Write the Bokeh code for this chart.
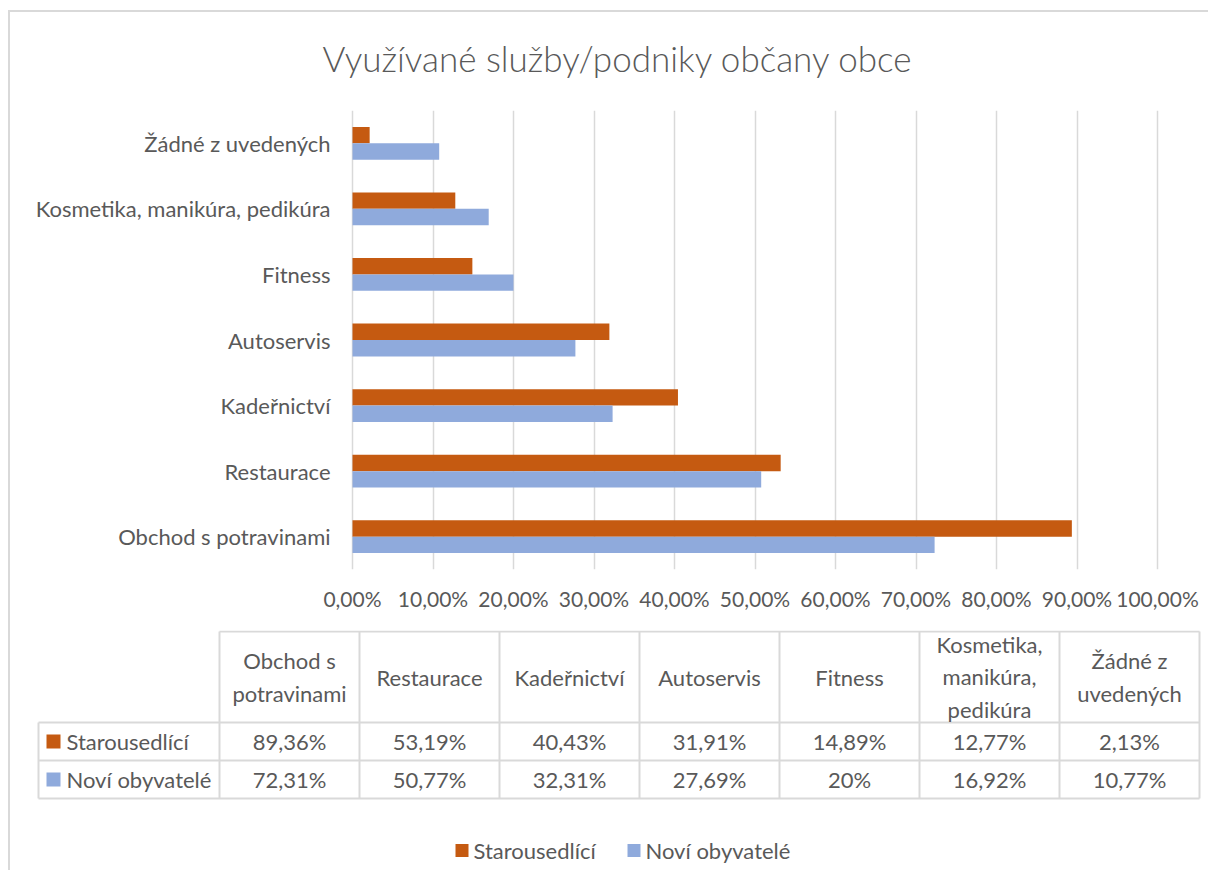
from bokeh.plotting import figure
from bokeh.models import FactorRange, Range1d, FixedTicker, ColumnDataSource
from bokeh.transform import dodge
from bokeh.layouts import column
from bokeh.embed import file_html
from bokeh.resources import INLINE
from bokeh.core.properties import value

# ---------------- data ----------------
categories = ["Obchod s potravinami", "Restaurace", "Kadeřnictví", "Autoservis",
              "Fitness", "Kosmetika, manikúra, pedikúra", "Žádné z uvedených"]
table_headers = ["Obchod s\npotravinami", "Restaurace", "Kadeřnictví", "Autoservis",
                 "Fitness", "Kosmetika,\nmanikúra,\npedikúra", "Žádné z\nuvedených"]
series_names = ["Starousedlící", "Noví obyvatelé"]
starousedlici = [89.36, 53.19, 40.43, 31.91, 14.89, 12.77, 2.13]
novi_obyvatele = [72.31, 50.77, 32.31, 27.69, 20.0, 16.92, 10.77]
x_ticks = [0, 10, 20, 30, 40, 50, 60, 70, 80, 90, 100]
tick_labels = ["0,00%", "10,00%", "20,00%", "30,00%", "40,00%", "50,00%",
               "60,00%", "70,00%", "80,00%", "90,00%", "100,00%"]
title_text = "Využívané služby/podniky občany obce"

# ---------------- style ----------------
FONT = "Lato"
TITLE_FONT = "'Lato Light', Lato"
TXT = "#595959"
GRID = "#d9d9d9"
ORANGE = "#C55A11"
BLUE = "#8FAADC"
FS = "22px"
TICK_FS = "21px"

W = 1198            # figure width (px)
BAR_LEFT = 342      # px where 0 % sits
BAR_W = 805         # px from 0 % to 100 %
PX = BAR_W / 100.0  # px per percent
X_START = -BAR_LEFT / PX
X_END = (W - BAR_LEFT) / PX


def fmt(v):
    if float(v).is_integer():
        return f"{int(v)}%"
    return f"{v:.2f}".replace(".", ",") + "%"


def blank_fig(height):
    f = figure(width=W, height=height, x_range=Range1d(0, W), y_range=Range1d(height, 0),
               output_backend="svg", toolbar_location=None, min_border=0,
               min_border_left=0, min_border_right=0, min_border_top=0,
               min_border_bottom=0, outline_line_color=None,
               x_axis_type=None, y_axis_type=None)
    f.grid.visible = False
    return f


# ---------------- title ----------------
TTL_H = 98
ttl = blank_fig(TTL_H)
ttl.text(x=[312], y=[45], text=[title_text], text_align="left", text_baseline="middle",
         text_font=value(TITLE_FONT), text_font_size="35px", text_color=TXT)

# ---------------- bar chart ----------------
p = figure(width=W, height=520, y_range=FactorRange(factors=categories),
           x_range=Range1d(X_START, X_END), output_backend="svg",
           toolbar_location=None, y_axis_location=None,
           min_border_left=0, min_border_right=0, min_border_top=0,
           min_border_bottom=61, outline_line_color=None)

src = ColumnDataSource(dict(cat=categories, s=starousedlici, n=novi_obyvatele))
p.hbar(y=dodge("cat", 0.125, range=p.y_range), left=0, right="s", height=0.25,
       fill_color=ORANGE, line_color=None, source=src)
p.hbar(y=dodge("cat", -0.125, range=p.y_range), left=0, right="n", height=0.25,
       fill_color=BLUE, line_color=None, source=src)

# category labels (left of the bars)
p.text(x=[-22 / PX] * len(categories), y=categories, text=categories,
       text_align="right", text_baseline="middle", text_font=value(FONT),
       text_font_size=FS, text_color=TXT)

p.xaxis.ticker = FixedTicker(ticks=x_ticks)
p.xaxis.major_label_overrides = {t: l for t, l in zip(x_ticks, tick_labels)}
p.xaxis.axis_line_color = None
p.xaxis.major_tick_line_color = None
p.xaxis.minor_tick_line_color = None
p.xaxis.major_tick_out = 0
p.xaxis.major_tick_in = 0
p.xaxis.major_label_standoff = 16
p.xaxis.major_label_text_font = FONT
p.xaxis.major_label_text_font_size = TICK_FS
p.xaxis.major_label_text_color = TXT

p.xgrid.grid_line_color = GRID
p.xgrid.grid_line_width = 1.5
p.ygrid.grid_line_color = None

# ---------------- data table + legend ----------------
TH = 240
t = blank_fig(TH)

ROW_X0 = 28
COL_X0 = 209
COL_W = 140
HEAD_TOP = 1
HEAD_BOT = 92
ROW_H = 38
ncol = len(categories)
x_end = COL_X0 + ncol * COL_W

# grid lines
x0s, y0s, x1s, y1s = [], [], [], []
x0s.append(COL_X0); x1s.append(x_end); y0s.append(HEAD_TOP); y1s.append(HEAD_TOP)
for r in range(3):
    yy = HEAD_BOT + r * ROW_H
    x0s.append(ROW_X0); x1s.append(x_end); y0s.append(yy); y1s.append(yy)
for k in range(ncol + 1):
    xx = COL_X0 + k * COL_W
    x0s.append(xx); x1s.append(xx); y0s.append(HEAD_TOP); y1s.append(HEAD_BOT + 2 * ROW_H)
x0s.append(ROW_X0); x1s.append(ROW_X0); y0s.append(HEAD_BOT); y1s.append(HEAD_BOT + 2 * ROW_H)
t.segment(x0=x0s, y0=y0s, x1=x1s, y1=y1s, line_color=GRID, line_width=2)

col_centers = [COL_X0 + (i + 0.5) * COL_W for i in range(ncol)]
t.text(x=col_centers, y=[(HEAD_TOP + HEAD_BOT) / 2] * ncol, text=table_headers,
       text_align="center", text_baseline="middle", text_font=value(FONT),
       text_font_size=FS, text_color=TXT, text_line_height=1.2)

row_y = [HEAD_BOT + ROW_H / 2, HEAD_BOT + 1.5 * ROW_H]
for ri, (vals, col, name) in enumerate(zip([starousedlici, novi_obyvatele], [ORANGE, BLUE], series_names)):
    t.text(x=col_centers, y=[row_y[ri]] * ncol, text=[fmt(v) for v in vals],
           text_align="center", text_baseline="middle", text_font=value(FONT),
           text_font_size=FS, text_color=TXT)
    t.scatter(x=[ROW_X0 + 15], y=[row_y[ri]], marker="square", size=14,
              fill_color=col, line_color=None)
    t.text(x=[ROW_X0 + 28], y=[row_y[ri]], text=[name], text_align="left",
           text_baseline="middle", text_font=value(FONT), text_font_size=FS,
           text_color=TXT)

# legend
LEG_Y = 220
leg_sq_x = [451.5, 623.5]
for name, col, sx in zip(series_names, [ORANGE, BLUE], leg_sq_x):
    t.scatter(x=[sx], y=[LEG_Y], marker="square", size=13, fill_color=col, line_color=None)
    t.text(x=[sx + 11.5], y=[LEG_Y], text=[name], text_align="left", text_baseline="middle",
           text_font=value(FONT), text_font_size=FS, text_color=TXT)

layout = column(ttl, p, t, styles={"border-top": "2px solid #d9d9d9",
                                   "border-left": "2px solid #d9d9d9",
                                   "margin-top": "10px", "margin-left": "8px"})

open("out.html", "w").write(file_html(layout, INLINE))
